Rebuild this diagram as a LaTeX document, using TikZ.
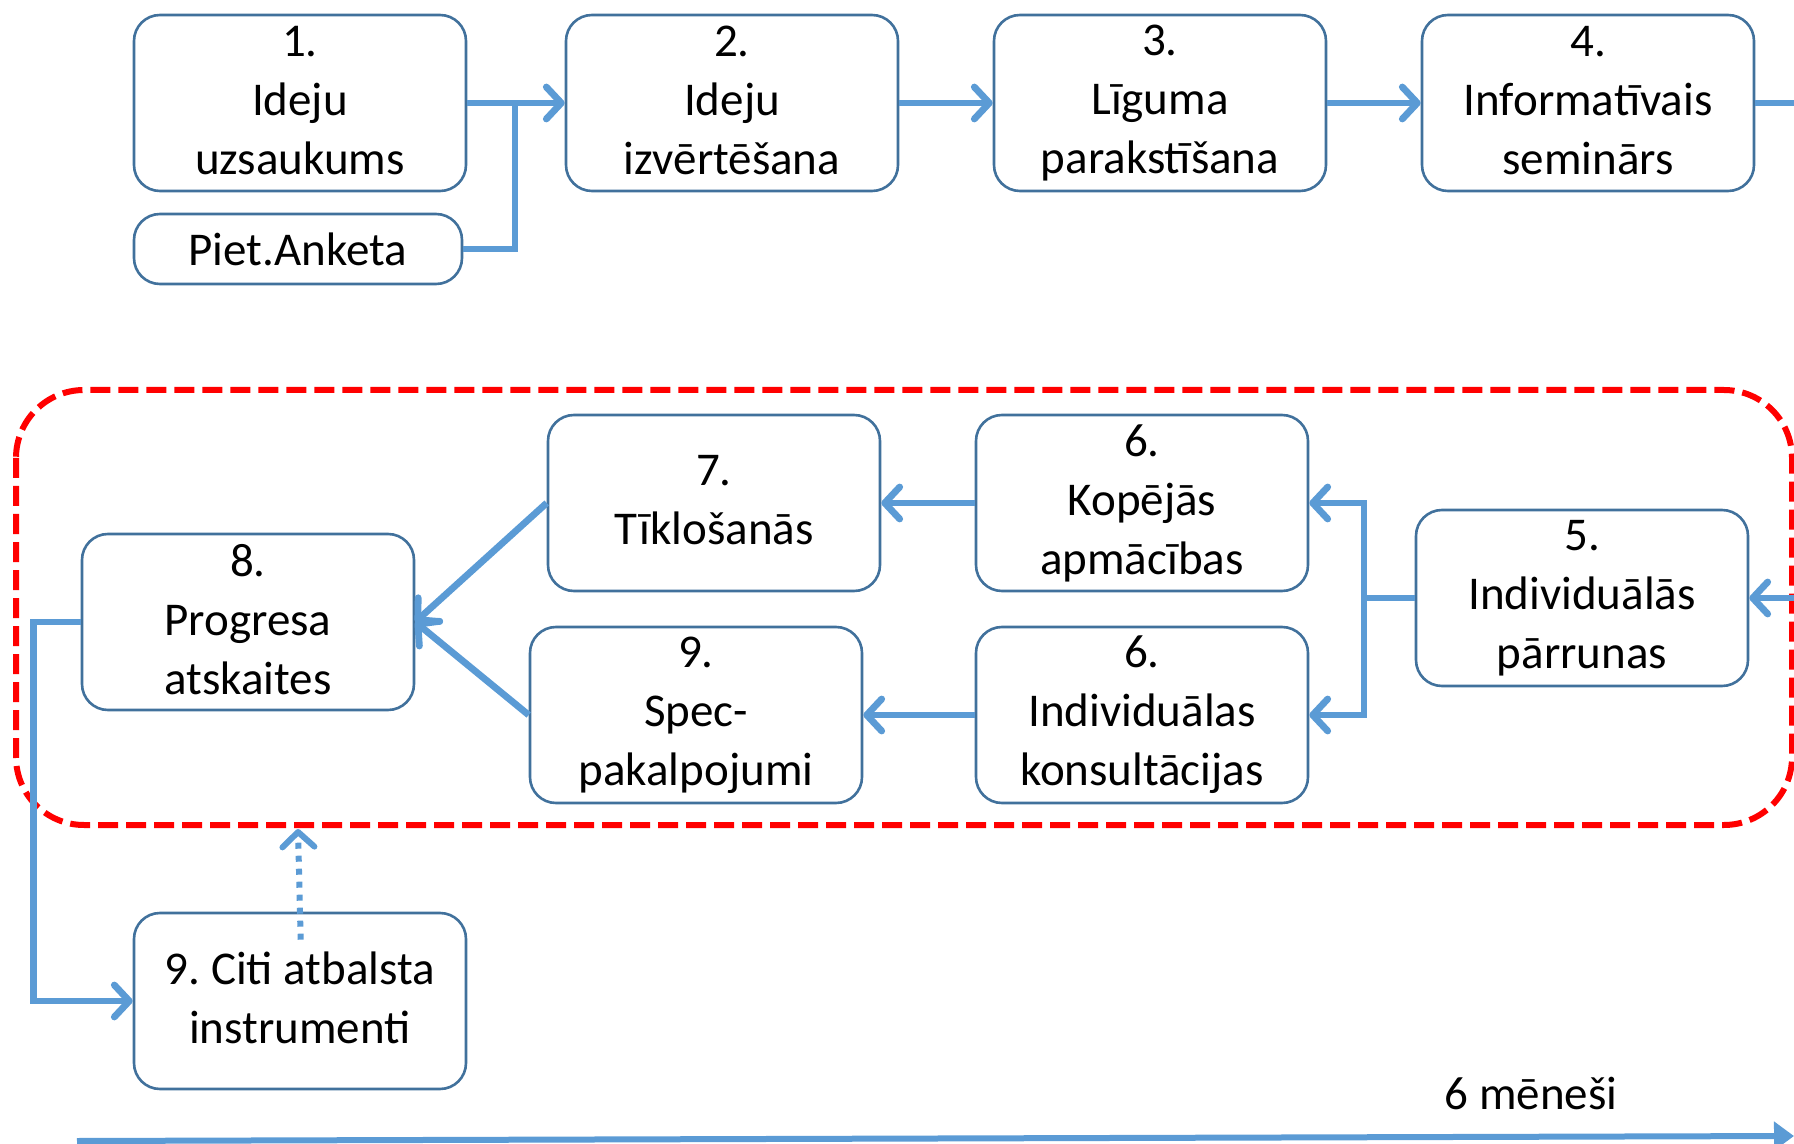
\documentclass[tikz,border=0pt]{standalone}
\usepackage{fontspec}
\setmainfont{Carlito}
\usetikzlibrary{arrows.meta,positioning}
\definecolor{boxblue}{HTML}{41719C}
\definecolor{linkblue}{HTML}{5B9BD5}
\frenchspacing
\tikzset{
    boxbase/.style={draw=boxblue, line width=1.3pt, rounded corners=13pt, fill=white,
        inner sep=0pt, align=center, font=\fontsize{23.5}{29.5}\selectfont},
    stepbox/.style={boxbase, minimum width=166pt, minimum height=88pt,
        execute at begin node=\rule{0pt}{28pt},
        execute at end node=\rule[-3pt]{0pt}{3pt}},
    tagbox/.style={boxbase, minimum width=164pt, minimum height=35pt},
    wire/.style={draw=linkblue, line width=3.4pt},
    link/.style={wire, -{Straight Barb[length=7.5pt,width=16pt,round]}},
}

\begin{document}
\begin{tikzpicture}[x=0.5pt, y=-0.5pt]
    \useasboundingbox (0,0) rectangle (1794,1144);

    % phase frame
    \draw[red, line width=3pt, dash pattern=on 10pt off 4pt, rounded corners=34pt]
        (16,390) rectangle (1792,825);

    % top row
    \node[stepbox] (b1) at (300,103) {1.\\Ideju\\uzsaukums};
    \node[tagbox] (pa) at (298,249) {Piet.Anketa};
    \node[stepbox] (b2) at (732,103) {2.\\Ideju\\izvērtēšana};
    \node[stepbox] (b3) at (1160,103) {3.\\Līguma\\parakstīšana};
    \node[stepbox] (b4) at (1588,103) {4.\\Informatīvais\\seminārs};

    % frame contents
    \node[stepbox] (b5) at (1582,598) {5.\\Individuālās\\pārrunas};
    \node[stepbox] (b6a) at (1142,503) {6.\\Kopējās\\apmācības};
    \node[stepbox] (b6b) at (1142,715) {6.\\Individuālas\\konsultācijas};
    \node[stepbox] (b7) at (714,503) {7.\\Tīklošanās};
    \node[stepbox] (b9) at (696,715) {9.\\Spec-\\pakalpojumi};
    \node[stepbox] (b8) at (248,622) {8.\\Progresa\\atskaites};

    \node[stepbox] (b9c) at (300,1001) {9. Citi atbalsta\\instrumenti};

    \node[font=\fontsize{23.5}{29.5}\selectfont] (t6) at (1531,1093) {6 mēneši};

    \coordinate (j1) at (515,103);
    \coordinate (j5) at (1364,598);
    \coordinate (out4) at (1794,103);
    \coordinate (in5) at (1794,598);
    \coordinate (dtop) at (298,829);
    \coordinate (tl) at (77,1141);
    \coordinate (tr) at (1794,1136);

    \draw[link] (b1) -- (b2);
    \draw[wire] (pa.east) -| (j1);
    \draw[link] (b2) -- (b3);
    \draw[link] (b3) -- (b4);
    \draw[wire] (b4.east) -- (out4);
    \draw[link] (in5) -- (b5.east);
    \draw[wire] (b5.west) -- (j5);
    \draw[link] (j5) |- (b6a.east);
    \draw[link] (j5) |- (b6b.east);
    \draw[link] (b6a) -- (b7);
    \draw[link] (b6b) -- (b9);
    \draw[link] (b7.west) -- (b8.east);
    \draw[link] (b9.west) -- (b8.east);
    \draw[link] (b8.west) -- ++(-47,0) |- (b9c.west);
    \draw[link, line width=3pt, dash pattern=on 3pt off 3.5pt, shorten <=-14pt] (b9c.north) -- (dtop);

    % time axis
    \draw[draw=linkblue, line width=3pt, -{Triangle[length=10pt,width=14pt]}] (tl) -- (tr);
\end{tikzpicture}
\end{document}
